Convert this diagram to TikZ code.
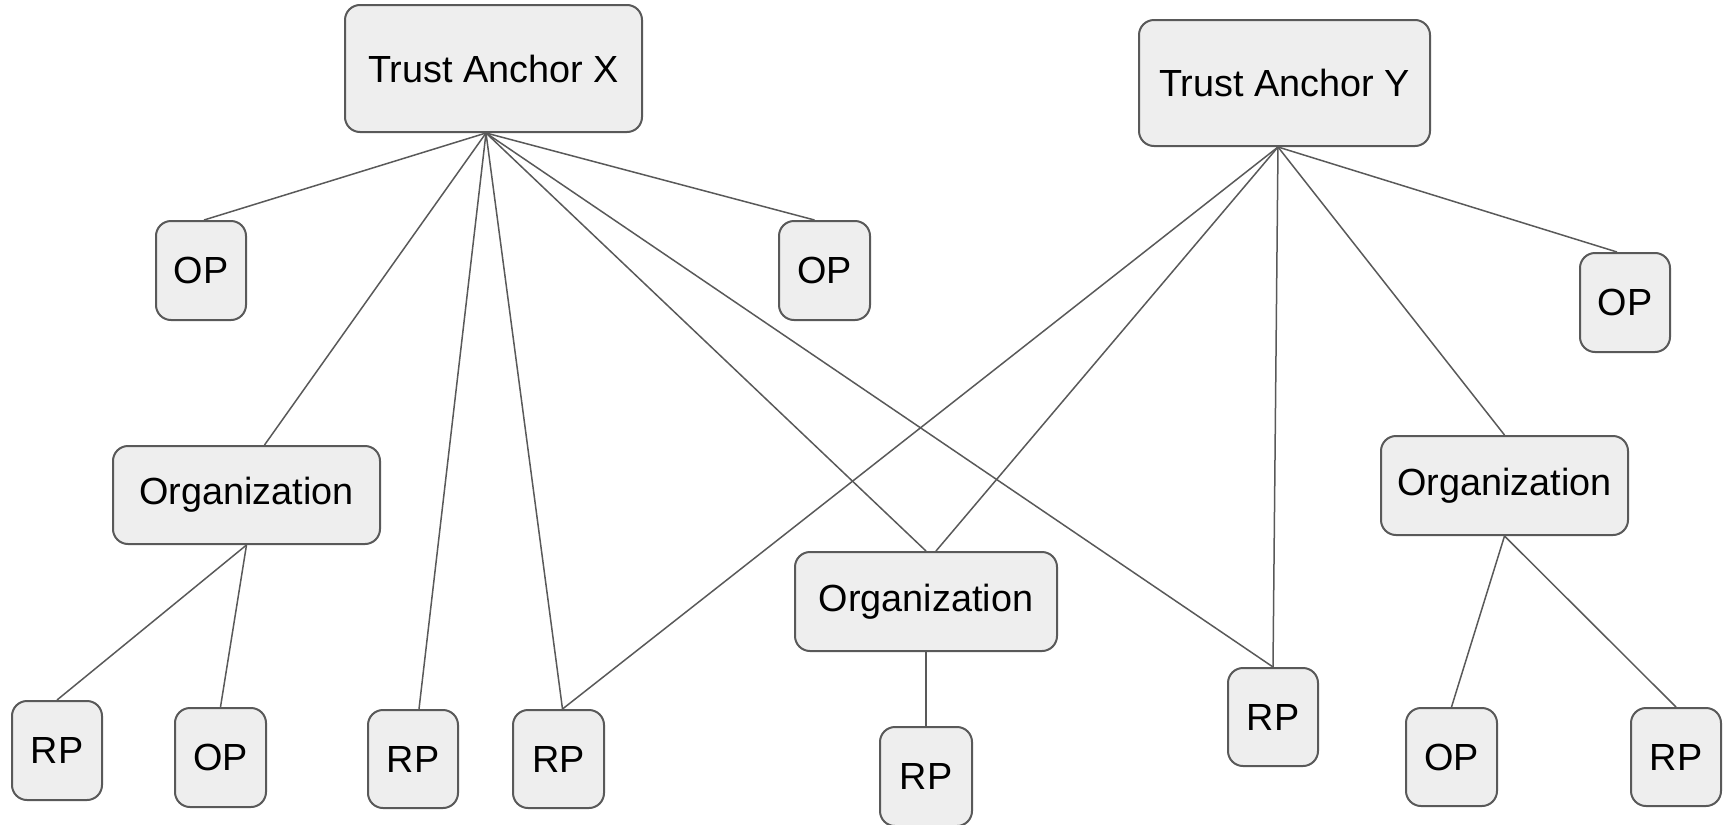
\documentclass[tikz,border=0pt]{standalone}
\usepackage{fontspec}
\setmainfont{Liberation Sans}
\definecolor{boxfill}{HTML}{EEEEEE}
\definecolor{boxline}{HTML}{595959}
\begin{document}
\begin{tikzpicture}[x=0.5pt,y=-0.5pt,
        entity/.style={draw=boxline,fill=boxfill,line width=1pt,rounded corners=7.5pt,
                       inner sep=0pt,font=\fontsize{18.9}{22}\selectfont},
        link/.style={draw=boxline,line width=0.75pt}]
                \useasboundingbox (0,0) rectangle (1731,825);
                \node[entity,minimum width=148.5pt,minimum height=63.5pt] (tax) at (493.5,68.5) {Trust Anchor X};
                \node[entity,minimum width=145.5pt,minimum height=63pt] (tay) at (1284.5,83) {Trust Anchor Y};
                \node[entity,minimum width=45pt,minimum height=49.5pt] (opa) at (201,270.5) {OP};
                \node[entity,minimum width=45.5pt,minimum height=49.5pt] (opb) at (824.5,270.5) {OP};
                \node[entity,minimum width=45pt,minimum height=49.5pt] (opc) at (1625,302.5) {OP};
                \node[entity,minimum width=133.5pt,minimum height=49pt] (orgl) at (246.5,495) {Organization};
                \node[entity,minimum width=131pt,minimum height=49.5pt] (orgm) at (926,601.5) {Organization};
                \node[entity,minimum width=123.5pt,minimum height=49.5pt] (orgr) at (1504.5,485.5) {Organization};
                \node[entity,minimum width=45pt,minimum height=49.5pt] (rpa) at (57,750.5) {RP};
                \node[entity,minimum width=45.5pt,minimum height=49.5pt] (opd) at (220.5,757.5) {OP};
                \node[entity,minimum width=45pt,minimum height=49pt] (rpb) at (413,759) {RP};
                \node[entity,minimum width=45.5pt,minimum height=49pt] (rpc) at (558.5,759) {RP};
                \node[entity,minimum width=46pt,minimum height=49.5pt] (rpd) at (926,776.5) {RP};
                \node[entity,minimum width=45pt,minimum height=49pt] (rpe) at (1273,717) {RP};
                \node[entity,minimum width=45.5pt,minimum height=49pt] (ope) at (1451.5,757) {OP};
                \node[entity,minimum width=45pt,minimum height=49pt] (rpf) at (1676,757) {RP};
                \coordinate (xroot) at ([xshift=-3.75pt]tax.south);
                \coordinate (yroot) at ([xshift=-3.25pt]tay.south);
                \draw[link] (xroot) -- ([xshift=1.5pt]opa.north);
                \draw[link] (xroot) -- ([xshift=9pt]orgl.north);
                \draw[link] (xroot) -- ([xshift=3pt]rpb.north);
                \draw[link] (xroot) -- ([xshift=2pt]rpc.north);
                \draw[link] (xroot) -- (orgm.north);
                \draw[link] (xroot) -- (rpe.north);
                \draw[link] (xroot) -- ([xshift=-5pt]opb.north);
                \draw[link] (yroot) -- ([xshift=2pt]rpc.north);
                \draw[link] (yroot) -- ([xshift=5pt]orgm.north);
                \draw[link] (yroot) -- (rpe.north);
                \draw[link] (yroot) -- (orgr.north);
                \draw[link] (yroot) -- ([xshift=-4pt]opc.north);
                \draw[link] (orgl.south) -- (rpa.north);
                \draw[link] (orgl.south) -- (opd.north);
                \draw[link] (orgm.south) -- (rpd.north);
                \draw[link] (orgr.south) -- (ope.north);
                \draw[link] (orgr.south) -- (rpf.north);
            \end{tikzpicture}
\end{document}
